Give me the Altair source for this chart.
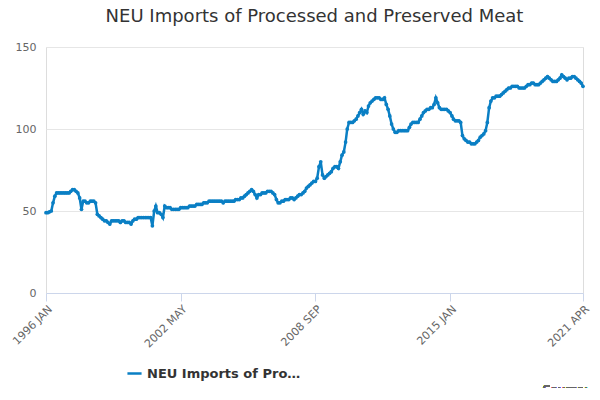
import pandas as pd
import altair as alt

series_name = "NEU Imports of Processed and Preserved Meat"

# monthly values, one list per year (1996 JAN .. 2021 APR)
v1996 = [49, 49, 49.5, 50, 55, 59, 61, 61, 61, 61, 61, 61]
v1997 = [61, 61, 62, 63, 63, 62, 61, 58, 51, 56, 56, 55]
v1998 = [55, 56, 56, 56, 55, 48, 47, 46, 45, 44, 44, 43]
v1999 = [42, 44, 44, 44, 44, 44, 43, 44, 44, 43, 43, 43]
v2000 = [42, 44, 45, 45, 46, 46, 46, 46, 46, 46, 46, 46]
v2001 = [41, 50, 53, 49, 49, 48, 46, 53, 52, 52, 52, 51]
v2002 = [51, 51, 51, 51, 52, 52, 52, 52, 52, 53, 53, 53]
v2003 = [53, 54, 54, 54, 54, 55, 55, 55, 56, 56, 56, 56]
v2004 = [56, 56, 56, 56, 55, 56, 56, 56, 56, 56, 56, 57]
v2005 = [57, 57, 58, 58, 59, 60, 61, 62, 63, 62, 60, 58]
v2006 = [60, 60, 61, 61, 61, 62, 62, 62, 61, 60, 57, 55]
v2007 = [55, 56, 56, 57, 57, 57, 58, 58, 57, 58, 59, 60]
v2008 = [60, 61, 62, 64, 65, 66, 67, 68, 68, 70, 77, 80]
v2009 = [72, 70, 71, 72, 73, 74, 76, 77, 77, 76, 80, 84]
v2010 = [86, 92, 100, 104, 104, 104, 105, 106, 108, 110, 112, 109]
v2011 = [111, 110, 114, 116, 117, 118, 119, 119, 119, 118, 118, 119]
v2012 = [115, 112, 108, 103, 100, 98, 98, 99, 99, 99, 99, 99]
v2013 = [99, 101, 103, 104, 104, 104, 104, 106, 108, 110, 111, 112]
v2014 = [112, 113, 113, 115, 119, 116, 113, 112, 112, 112, 112, 111]
v2015 = [110, 108, 106, 105, 105, 105, 104, 96, 94, 93, 92, 92]
v2016 = [91, 91, 91, 92, 93, 95, 96, 97, 99, 104, 113, 117]
v2017 = [119, 119, 120, 120, 120, 121, 122, 123, 124, 125, 125, 126]
v2018 = [126, 126, 126, 125, 125, 125, 125, 126, 127, 127, 128, 128]
v2019 = [127, 127, 127, 128, 129, 130, 131, 132, 131, 130, 129, 129]
v2020 = [129, 130, 131, 133, 132, 131, 130, 131, 131, 132, 132, 131]
v2021 = [130, 129, 128, 126]

values = (v1996 + v1997 + v1998 + v1999 + v2000 + v2001 + v2002 + v2003 + v2004
          + v2005 + v2006 + v2007 + v2008 + v2009 + v2010 + v2011 + v2012 + v2013
          + v2014 + v2015 + v2016 + v2017 + v2018 + v2019 + v2020 + v2021)
dates = pd.date_range("1996-01-01", periods=len(values), freq="MS")
tick_dates = ["1996-01-01", "2002-05-01", "2008-09-01", "2015-01-01", "2021-04-01"]

df = pd.DataFrame({"date": dates, "value": values, "series": series_name})

blue = "#0a7fc4"

line = alt.Chart(df).mark_line(
    color=blue, strokeWidth=2.5,
    point=alt.OverlayMarkDef(color=blue, filled=True, size=14)
).encode(
    x=alt.X("date:T", title=None,
            axis=alt.Axis(values=tick_dates, labelExpr="upper(timeFormat(datum.value, '%Y %b'))",
                          labelAngle=-45, labelColor="#666", labelFontSize=11, grid=False,
                          domainColor="#ccd6eb", tickColor="#ccd6eb", tickSize=8, labelPadding=2),
            scale=alt.Scale(domain=["1996-01-01", "2021-04-01"], nice=False)),
    y=alt.Y("value:Q", title=None,
            scale=alt.Scale(domain=[0, 150], nice=False),
            axis=alt.Axis(values=[0, 50, 100, 150], domain=False, ticks=False,
                          labelColor="#666", labelFontSize=11, gridColor="#e6e6e6", labelPadding=10)),
    color=alt.Color("series:N", scale=alt.Scale(range=[blue]),
                    legend=alt.Legend(title=None, orient="none", legendX=80, legendY=318,
                                      symbolType="stroke", symbolStrokeWidth=2.5,
                                      labelFontSize=13, labelFontWeight="bold", labelColor="#333",
                                      symbolSize=200)),
)

source = alt.Chart(df).mark_text(align="right", fontSize=12, color="#666").encode(
    x=alt.value(542), y=alt.value(343), text=alt.value("Source:")
)

chart = alt.layer(line, source).properties(
    width=537, height=246,
    autosize=alt.AutoSizeParams(type="none"),
    padding={"left": 38, "top": 39, "right": 9, "bottom": 95},
    title=alt.TitleParams(series_name, fontSize=18, fontWeight="normal", color="#333",
                          font="DejaVu Sans", offset=15),
).configure_view(stroke=None).configure(font="DejaVu Sans")

chart.save("out.html", embed_options={"renderer": "svg", "actions": False})
